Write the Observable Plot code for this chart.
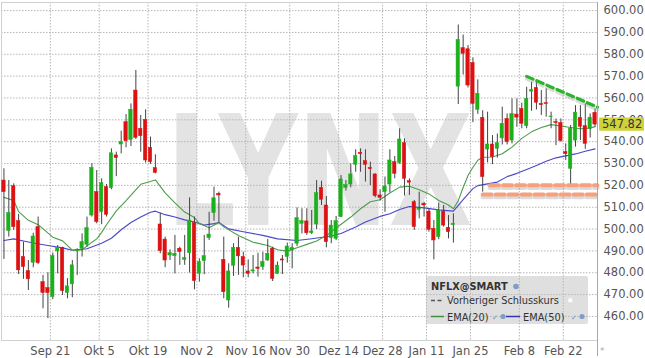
<!DOCTYPE html>
<html><head><meta charset="utf-8">
<script src="https://cdn.jsdelivr.net/npm/d3@7"></script>
<script src="https://cdn.jsdelivr.net/npm/@observablehq/plot@0.6"></script>
<style>
html,body{margin:0;padding:0;background:#fff;}
#wrap{position:relative;width:645px;height:358px;overflow:hidden;font-family:"DejaVu Sans",sans-serif;}
#wrap > svg{position:absolute;left:0;top:0;}
#legend{position:absolute;left:426px;top:276px;width:162px;height:48px;background:rgba(185,185,185,0.45);border-radius:2px;}
#legend svg{position:absolute;left:0;top:0;font-family:"DejaVu Sans",sans-serif;font-size:9.8px;}
</style></head><body><div id="wrap"></div>
<script>
// ---- data (NFLX daily) ----
const dates = [
"2020-09-04","2020-09-08","2020-09-09","2020-09-10","2020-09-11","2020-09-14","2020-09-15","2020-09-16","2020-09-17","2020-09-18",
"2020-09-21","2020-09-22","2020-09-23","2020-09-24","2020-09-25","2020-09-28","2020-09-29","2020-09-30","2020-10-01","2020-10-02",
"2020-10-05","2020-10-06","2020-10-07","2020-10-08","2020-10-09","2020-10-12","2020-10-13","2020-10-14","2020-10-15","2020-10-16",
"2020-10-19","2020-10-20","2020-10-21","2020-10-22","2020-10-23","2020-10-26","2020-10-27","2020-10-28","2020-10-29","2020-10-30",
"2020-11-02","2020-11-03","2020-11-04","2020-11-05","2020-11-06","2020-11-09","2020-11-10","2020-11-11","2020-11-12","2020-11-13",
"2020-11-16","2020-11-17","2020-11-18","2020-11-19","2020-11-20","2020-11-23","2020-11-24","2020-11-25","2020-11-27","2020-11-30",
"2020-12-01","2020-12-02","2020-12-03","2020-12-04","2020-12-07","2020-12-08","2020-12-09","2020-12-10","2020-12-11","2020-12-14",
"2020-12-15","2020-12-16","2020-12-17","2020-12-18","2020-12-21","2020-12-22","2020-12-23","2020-12-24","2020-12-28","2020-12-29",
"2020-12-30","2020-12-31","2021-01-04","2021-01-05","2021-01-06","2021-01-07","2021-01-08","2021-01-11","2021-01-12","2021-01-13",
"2021-01-14","2021-01-15","2021-01-19","2021-01-20","2021-01-21","2021-01-22","2021-01-25","2021-01-26","2021-01-27","2021-01-28",
"2021-01-29","2021-02-01","2021-02-02","2021-02-03","2021-02-04","2021-02-05","2021-02-08","2021-02-09","2021-02-10","2021-02-11",
"2021-02-12","2021-02-16","2021-02-17","2021-02-18","2021-02-19","2021-02-22","2021-02-23","2021-02-24","2021-02-25","2021-02-26",
"2021-03-01","2021-03-02"];

const open = [
522.2,499.1,519.6,503.6,487.2,480.8,484.6,500.9,475.7,473.0,
468.9,489.8,491.3,470.7,474.7,489.8,491.0,492.8,506.2,516.9,
507.8,519.2,518.7,533.7,538.7,548.9,540.8,563.4,545.9,550.0,
537.2,527.9,502.1,495.2,487.9,487.6,491.0,485.9,489.0,502.7,
479.5,485.3,495.8,507.3,516.1,485.9,467.3,483.2,491.4,487.2,
480.6,480.6,482.4,482.6,485.6,491.0,479.5,486.1,487.2,490.2,
493.3,502.4,503.5,498.1,502.1,518.9,510.8,495.8,495.5,505.5,
518.9,520.4,529.4,534.9,531.1,528.0,525.0,515.4,516.9,520.4,
530.6,530.3,539.3,521.9,512.3,508.8,511.6,508.0,500.1,496.3,
508.0,500.6,501.8,565.2,582.8,582.3,576.0,554.6,550.9,536.4,
538.7,536.7,541.5,550.4,540.5,552.4,555.0,547.1,562.9,564.6,
557.3,557.6,551.2,549.0,548.5,535.2,527.6,540.5,550.9,547.1,
545.9,553.2];

const high = [
527.6,522.2,520.7,506.7,494.0,485.6,498.1,505.5,478.8,480.0,
489.0,492.5,491.7,477.3,485.6,491.0,497.8,505.5,529.9,526.8,
523.0,520.4,536.7,535.2,544.8,552.4,557.3,572.6,552.0,554.6,
542.1,534.0,507.3,496.3,490.5,497.1,491.7,497.1,514.3,505.5,
486.4,497.1,507.7,519.2,516.9,496.3,484.1,493.3,496.3,489.4,
485.9,487.9,489.0,489.4,495.2,491.7,484.9,487.9,493.6,493.3,
509.7,509.3,509.3,508.5,522.2,521.9,514.9,503.9,505.8,524.5,
522.2,529.9,536.3,536.7,536.3,530.6,525.3,518.0,523.8,536.3,
533.2,545.9,541.3,523.0,513.1,516.9,512.3,509.3,503.9,511.9,
510.8,506.2,507.0,593.4,588.8,584.0,578.4,568.3,554.2,553.5,
542.8,543.5,555.8,552.7,559.6,559.6,557.6,564.9,567.2,568.0,
563.4,564.2,553.5,550.4,550.4,539.0,547.4,556.5,556.5,557.3,
552.7,555.0];

const low = [
486.1,496.3,499.4,479.2,477.0,471.9,482.3,483.8,463.5,459.0,
467.7,479.5,469.6,468.1,468.6,478.8,487.2,491.7,505.5,502.4,
502.0,505.5,518.0,524.0,534.4,537.2,537.8,541.0,535.2,530.2,
529.6,525.3,488.7,482.3,485.6,479.5,483.4,483.4,479.9,472.2,
475.7,479.1,494.8,503.6,502.7,468.1,463.8,478.3,478.8,477.7,
477.7,479.5,478.0,481.1,485.3,476.0,479.2,479.2,484.4,481.8,
492.0,497.8,497.1,497.5,499.8,510.8,491.4,493.3,494.8,505.2,
517.4,518.9,526.0,526.0,521.5,519.9,514.3,512.8,507.7,516.6,
523.0,529.6,515.1,515.4,499.4,504.7,505.5,498.6,485.9,495.1,
500.9,495.5,493.6,557.0,570.5,564.6,548.7,552.5,516.9,530.3,
529.5,532.5,538.5,538.5,539.0,546.6,545.9,545.9,553.9,554.5,
552.0,551.2,545.9,538.2,539.8,531.4,519.2,537.5,540.5,536.5,
541.7,546.6];

const close = [
516.9,507.3,500.9,481.1,482.6,477.0,496.6,484.4,470.7,470.7,
487.6,491.3,471.6,473.8,483.4,490.5,494.0,500.4,528.0,503.2,
521.0,506.5,534.7,532.5,539.8,540.2,554.6,541.8,542.5,531.4,
530.6,525.7,489.9,485.6,489.0,488.7,489.5,486.7,503.9,476.2,
484.9,487.6,497.5,514.1,515.4,471.1,480.6,491.4,487.5,483.3,
479.5,481.1,481.8,484.9,488.7,477.2,483.3,485.6,492.0,491.4,
505.0,503.6,498.1,498.9,516.4,513.4,494.0,501.6,503.6,522.7,
520.1,525.0,533.4,534.3,529.4,527.4,515.1,514.3,519.5,531.4,
525.3,541.0,523.0,521.2,500.9,509.3,510.8,499.7,494.8,508.5,
501.6,498.6,502.4,586.6,580.2,565.7,557.3,561.9,523.8,538.7,
532.9,539.3,548.2,539.8,552.7,551.0,548.2,559.6,563.6,557.8,
556.7,557.2,551.5,548.5,540.3,534.3,545.9,553.3,546.8,539.0,
551.0,547.82];

// EMA(20) at these candle positions
const ema20At = [0,2,3,5,7,10,12,14,16,18,19,20,21,23,25,28,31,33,35,37,39,40,42,44,45,48,51,54,56,58,60,62,64,66,68,71,73,75,77,79,81,83,85,87,89,91,92,93,94,95,96,97,98,100,102,104,106,108,110,112,114,116,118,120,121];
const ema20 = [514.5,513.1,508.0,504.0,502.0,496.3,494.6,490.4,490.5,494.0,495.5,498.5,502.0,508.3,513.0,520.5,522.5,516.6,512.0,507.8,505.3,502.5,500.6,503.0,501.0,497.1,494.0,492.5,490.5,489.9,491.5,493.0,494.5,497.0,500.5,505.5,509.3,512.5,513.4,516.5,519.2,519.6,518.0,516.1,513.1,511.0,509.3,513.0,519.0,524.5,528.3,531.5,532.9,533.0,534.5,537.5,541.5,544.5,546.5,547.8,547.2,546.5,545.9,546.2,546.9];
// EMA(50)
const ema50At = [0,2,4,6,9,12,14,17,20,22,24,26,28,30,31,33,35,37,39,41,43,44,46,49,53,56,60,63,67,69,72,74,77,79,81,83,86,89,92,94,96,97,99,101,103,105,107,109,111,113,115,117,119,121];
const ema50 = [494.8,495.5,494.5,493.6,492.5,491.4,490.3,491.0,493.5,495.8,499.7,503.0,505.5,507.7,508.2,506.6,505.5,504.2,503.2,501.8,502.5,503.0,500.1,498.8,497.1,495.5,494.8,495.6,496.8,498.0,501.0,503.2,505.8,507.0,509.0,510.3,509.7,508.8,508.2,513.5,518.5,519.9,520.7,521.5,524.0,525.5,527.3,529.1,531.0,532.6,533.5,534.4,535.6,536.7];

// drawn annotations (candle-index position, price)
const trendAt = [107.5, 122];   const trendVal = [569.9, 555.8];
const supp1At = [100, 122];     const supp1Val = [520.0, 520.0];
const supp2At = [98.5, 122];    const supp2Val = [515.8, 515.8];

const yTicks = [460,470,480,490,500,510,520,530,540,550,560,570,580,590,600];
const tickDates = ["2020-09-21","2020-10-05","2020-10-19","2020-11-02","2020-11-16","2020-11-30","2020-12-14","2020-12-28","2021-01-11","2021-01-25","2021-02-08","2021-02-22"];
const tickLabels = ["Sep 21","Okt 5","Okt 19","Nov 2","Nov 16","Nov 30","Dez 14","Dez 28","Jan 11","Jan 25","Feb 8","Feb 22"];
const lastPrice = close[close.length - 1];

// ---- build ----
const candles = dates.map((date, i) => ({i, date, open: open[i], high: high[i], low: low[i], close: close[i]}));
const up = candles.filter(d => d.close >= d.open);
const down = candles.filter(d => d.close < d.open);
const e20 = ema20At.map((i, k) => ({i, v: ema20[k]}));
const e50 = ema50At.map((i, k) => ({i, v: ema50[k]}));
const trend = trendAt.map((i, k) => ({i, v: trendVal[k]}));
const s1 = supp1At.map((i, k) => ({i, v: supp1Val[k]}));
const s2 = supp2At.map((i, k) => ({i, v: supp2Val[k]}));
const tickIdx = tickDates.map(d => dates.indexOf(d));
const labelOf = new Map(tickIdx.map((t, k) => [t, tickLabels[k]]));
const N = dates.length;
const GREEN = "#1cb01c", RED = "#dd1111";

const plot = Plot.plot({
  width: 645, height: 358,
  marginLeft: 1, marginRight: 48, marginTop: 2, marginBottom: 18,
  style: {fontFamily: "DejaVu Sans, sans-serif", background: "transparent", overflow: "visible"},
  x: {type: "linear", domain: [0, N]},
  y: {domain: [449, 603.7]},
  marks: [
    Plot.text(["LYNX"], {frameAnchor: "middle", dx: 20, dy: 5, fontSize: 153, fontWeight: "bold", fill: "#e3e3e3", fontFamily: "DejaVu Sans"}),
    Plot.gridY(yTicks, {stroke: "#b5b5b5", strokeOpacity: 1, strokeDasharray: "1.5,1.5"}),
    Plot.gridX(tickIdx, {stroke: "#b5b5b5", strokeOpacity: 1, strokeDasharray: "1.5,1.5"}),
    Plot.frame({stroke: "#d0d0d0"}),
    Plot.line(e50, {x: d => d.i + 0.5, y: "v", stroke: "#4848c8", strokeWidth: 1.1}),
    Plot.line(e20, {x: d => d.i + 0.5, y: "v", stroke: "#4e9c4e", strokeWidth: 1.1}),
    Plot.ruleX(candles, {x: d => d.i + 0.5, y1: "low", y2: "high", stroke: "#444", strokeWidth: 1}),
    Plot.rect(up, {x1: d => d.i + 0.15, x2: d => d.i + 0.85, y1: "open", y2: "close", fill: GREEN, stroke: GREEN, strokeWidth: 0.5}),
    Plot.rect(down, {x1: d => d.i + 0.15, x2: d => d.i + 0.85, y1: "open", y2: "close", fill: RED, stroke: RED, strokeWidth: 0.5}),
    Plot.line(s1, {x: "i", y: "v", stroke: "#999", strokeOpacity: 0.35, strokeWidth: 4.5, strokeDasharray: "9,4", dy: 2.5}),
    Plot.line(s2, {x: "i", y: "v", stroke: "#999", strokeOpacity: 0.35, strokeWidth: 4.5, strokeDasharray: "9,4", dy: 2.5}),
    Plot.line(s1, {x: "i", y: "v", stroke: "#f6a07c", strokeWidth: 4, strokeDasharray: "9,4"}),
    Plot.line(s2, {x: "i", y: "v", stroke: "#f6a07c", strokeWidth: 4, strokeDasharray: "9,4"}),
    Plot.line(trend, {x: "i", y: "v", stroke: "#999", strokeOpacity: 0.35, strokeWidth: 3.5, strokeDasharray: "7,4", dy: 2.5}),
    Plot.line(trend, {x: "i", y: "v", stroke: "#2db42d", strokeWidth: 3.2, strokeDasharray: "7,4"}),
    Plot.axisY(yTicks, {anchor: "right", tickSize: 0, tickPadding: 6, tickFormat: d => d.toFixed(2), fontSize: 11.5, fill: "#555", label: null}),
    Plot.axisX(tickIdx, {anchor: "bottom", tickSize: 0, tickPadding: 6, tickFormat: d => labelOf.get(d), fontSize: 11.5, fill: "#555", label: null}),
    Plot.ruleX([N], {stroke: "#a8a8a8", insetBottom: -16})
  ]
});

document.getElementById("wrap").appendChild(plot);

// compress watermark to the original's narrow letterforms
for (const t of plot.querySelectorAll("text")) {
  if (t.textContent === "LYNX") { t.setAttribute("textLength", 306); t.setAttribute("lengthAdjust", "spacingAndGlyphs"); }
}

// last-price label on the axis
const xs = plot.scale("x"), ys = plot.scale("y");
const px = xs.apply(N) + 2, py = ys.apply(lastPrice);
const svg = d3.select(plot);
svg.append("rect").attr("x", px).attr("y", py - 6.7).attr("width", 45).attr("height", 13.4).attr("rx", 1).attr("fill", "#cfd23c");
svg.append("text").attr("x", px + 3).attr("y", py + 4.2).attr("text-anchor", "start").attr("font-size", 11.5).attr("fill", "#333").attr("font-family", "DejaVu Sans").text(lastPrice.toFixed(2));
svg.append("text").attr("x", px + 1).attr("y", 354).attr("text-anchor", "start").attr("font-size", 9).attr("fill", "#aaa").text("*");

// legend overlay
const legend = document.createElement("div");
legend.id = "legend";
legend.innerHTML = `<svg width="162" height="48">
 <text x="5" y="14" font-weight="bold" fill="#333">NFLX@SMART</text>
 <circle cx="90" cy="10.5" r="2.8" fill="#7e9ec6"/>
 <line x1="5" x2="17" y1="24.5" y2="24.5" stroke="#555" stroke-width="1.4" stroke-dasharray="4,2.5"/>
 <text x="21" y="28" fill="#333">Vorheriger Schlusskurs</text>
 <rect x="142" y="22" width="4.5" height="4.5" fill="#fff" stroke="#e4e4e4"/>
 <line x1="5" x2="18" y1="40.5" y2="40.5" stroke="#3f8f3f" stroke-width="1.5"/>
 <text x="21" y="45" fill="#333">EMA(20)</text>
 <text x="66" y="44" font-size="7" fill="#6a8fc2">✓</text>
 <circle cx="77" cy="40.5" r="2.6" fill="#7e9ec6"/>
 <line x1="80" x2="94" y1="40.5" y2="40.5" stroke="#3535b8" stroke-width="1.5"/>
 <text x="97" y="45" fill="#333">EMA(50)</text>
 <text x="145" y="44" font-size="7" fill="#6a8fc2">✓</text>
 <circle cx="156" cy="40.5" r="2.6" fill="#7e9ec6"/>
</svg>`;
document.getElementById("wrap").appendChild(legend);
</script></body></html>
